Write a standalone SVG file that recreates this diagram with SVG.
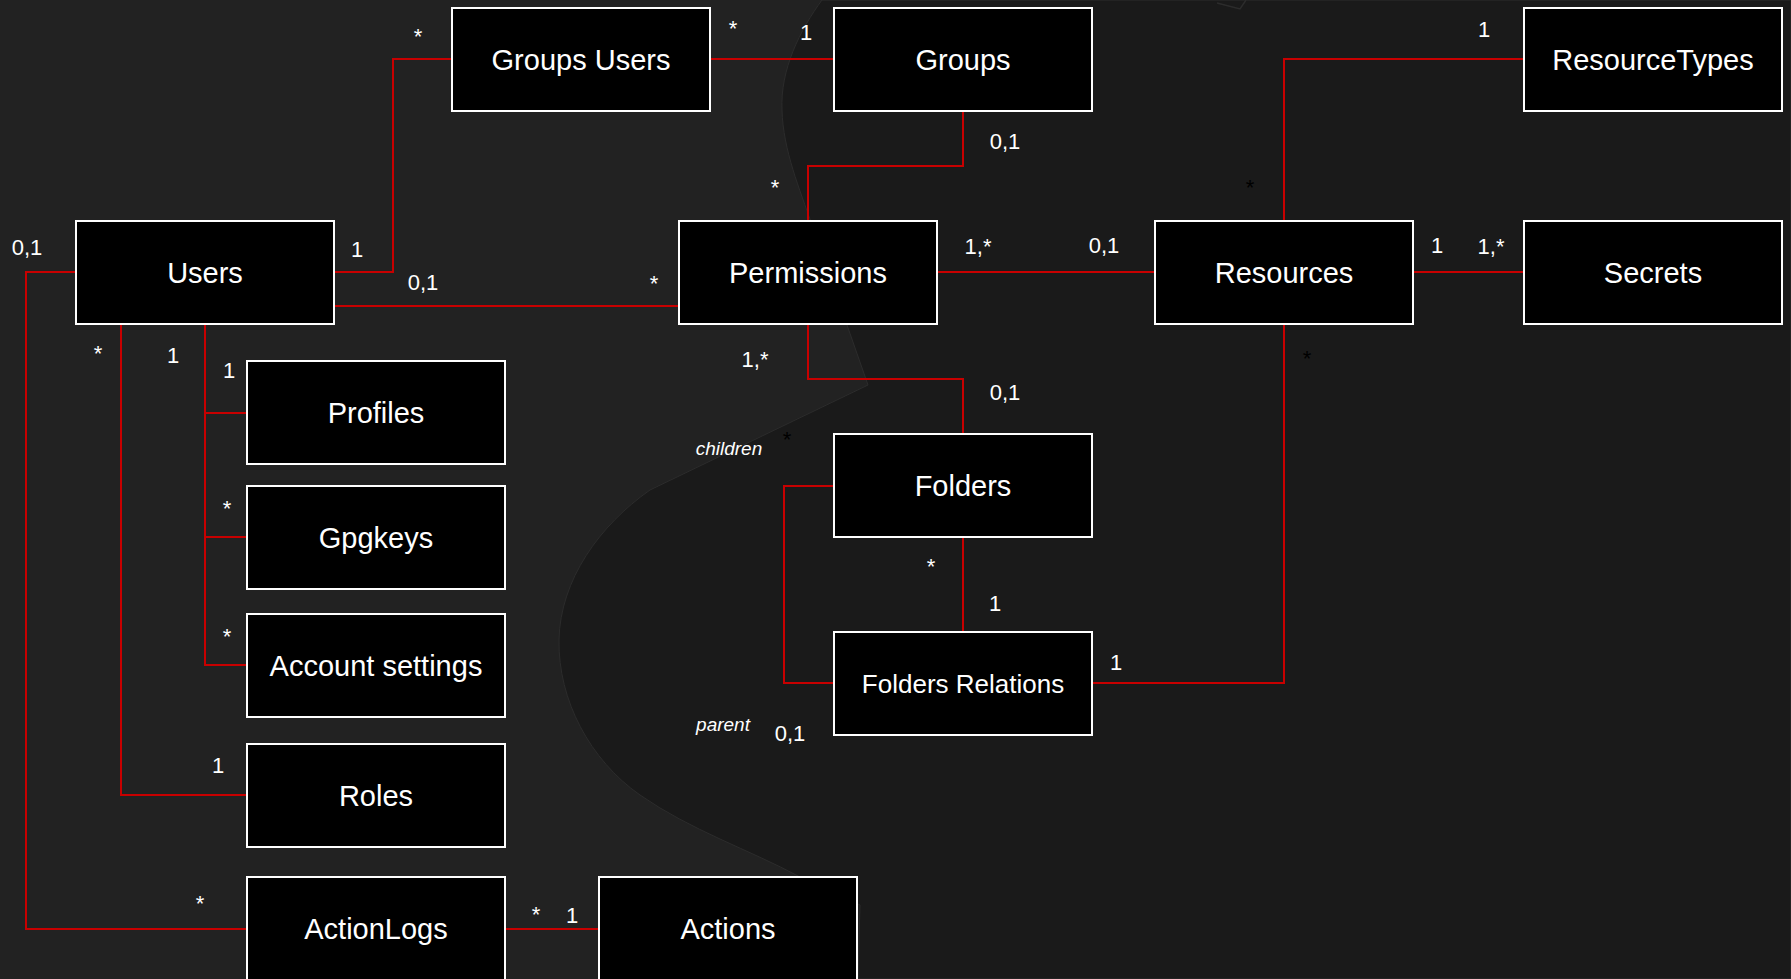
<svg xmlns="http://www.w3.org/2000/svg" width="1791" height="979" viewBox="0 0 1791 979">
<style>
.box{fill:#000;stroke:#fff;stroke-width:2}
.nt{fill:#fff;font-family:"Liberation Sans",Arial,sans-serif;font-size:29px;text-anchor:middle}
.con{fill:none;stroke:#c80000;stroke-width:2}
.lb{fill:#fff;font-family:"Liberation Sans",Arial,sans-serif;font-size:22px;text-anchor:middle}
.lbk{fill:#000;font-family:"Liberation Sans",Arial,sans-serif;font-size:22px;text-anchor:middle}
.role{fill:#fff;font-family:"Liberation Sans",Arial,sans-serif;font-size:19px;font-style:italic;text-anchor:middle}
</style>
<g id="background">
<rect x="0" y="0" width="1791" height="979" fill="#222"/>
<path d="M822 0 C800 30 780 70 782 110 C783 150 800 190 812 225 L847 325 L868 385 L650 490 C600 525 560 580 559 640 C558 700 590 760 640 795 C690 830 750 850 800 877 L860 905 L858 979 L1791 979 L1791 0 Z" fill="#1a1a1a" stroke="#2c2c2c" stroke-width="1"/>
<path d="M1217 3 L1240 9 L1246 0" fill="none" stroke="#2c2c2c" stroke-width="1.5"/>
</g>
<g id="connectors">
<path class="con" d="M334 272 H393 V59 H452"/>
<path class="con" d="M710 59 H834"/>
<path class="con" d="M334 306 H679"/>
<path class="con" d="M963 111 V166 H808 V221"/>
<path class="con" d="M937 272 H1155"/>
<path class="con" d="M1284 221 V59 H1524"/>
<path class="con" d="M1413 272 H1524"/>
<path class="con" d="M808 324 V379 H963 V434"/>
<path class="con" d="M834 486 H784 V683 H834"/>
<path class="con" d="M963 537 V632"/>
<path class="con" d="M1092 683 H1284 V324"/>
<path class="con" d="M76 272 H26 V929 H247"/>
<path class="con" d="M121 324 V795 H247"/>
<path class="con" d="M205 324 V665 H247 M205 413 H247 M205 537 H247"/>
<path class="con" d="M505 929 H599"/>
</g>
<g id="labels">
<text class="lb" x="418" y="44">*</text>
<text class="lb" x="357" y="257">1</text>
<text class="lb" x="423" y="290">0,1</text>
<text class="lb" x="654" y="291">*</text>
<text class="lb" x="733" y="36">*</text>
<text class="lb" x="806" y="40">1</text>
<text class="lb" x="1005" y="149">0,1</text>
<text class="lb" x="775" y="195">*</text>
<text class="lb" x="978" y="254">1,*</text>
<text class="lb" x="1104" y="253">0,1</text>
<text class="lb" x="1484" y="37">1</text>
<text class="lbk" x="1250" y="195">*</text>
<text class="lb" x="1437" y="253">1</text>
<text class="lb" x="1491" y="254">1,*</text>
<text class="lb" x="755" y="367">1,*</text>
<text class="lb" x="1005" y="400">0,1</text>
<text class="role" x="729" y="455">children</text>
<text class="lbk" x="787" y="447">*</text>
<text class="role" x="723" y="731">parent</text>
<text class="lb" x="790" y="741">0,1</text>
<text class="lb" x="931" y="574">*</text>
<text class="lb" x="995" y="611">1</text>
<text class="lb" x="1116" y="670">1</text>
<text class="lbk" x="1307" y="366">*</text>
<text class="lb" x="27" y="255">0,1</text>
<text class="lb" x="98" y="361">*</text>
<text class="lb" x="173" y="363">1</text>
<text class="lb" x="229" y="378">1</text>
<text class="lb" x="227" y="516">*</text>
<text class="lb" x="227" y="644">*</text>
<text class="lb" x="218" y="773">1</text>
<text class="lb" x="200" y="911">*</text>
<text class="lb" x="536" y="922">*</text>
<text class="lb" x="572" y="923">1</text>
</g>
<g id="node-groups-users"><rect class="box" x="452" y="8" width="258" height="103"/><text class="nt" x="581" y="70">Groups Users</text></g>
<g id="node-groups"><rect class="box" x="834" y="8" width="258" height="103"/><text class="nt" x="963" y="70">Groups</text></g>
<g id="node-resourcetypes"><rect class="box" x="1524" y="8" width="258" height="103"/><text class="nt" x="1653" y="70">ResourceTypes</text></g>
<g id="node-users"><rect class="box" x="76" y="221" width="258" height="103"/><text class="nt" x="205" y="283">Users</text></g>
<g id="node-permissions"><rect class="box" x="679" y="221" width="258" height="103"/><text class="nt" x="808" y="283">Permissions</text></g>
<g id="node-resources"><rect class="box" x="1155" y="221" width="258" height="103"/><text class="nt" x="1284" y="283">Resources</text></g>
<g id="node-secrets"><rect class="box" x="1524" y="221" width="258" height="103"/><text class="nt" x="1653" y="283">Secrets</text></g>
<g id="node-profiles"><rect class="box" x="247" y="361" width="258" height="103"/><text class="nt" x="376" y="423">Profiles</text></g>
<g id="node-gpgkeys"><rect class="box" x="247" y="486" width="258" height="103"/><text class="nt" x="376" y="548">Gpgkeys</text></g>
<g id="node-account-settings"><rect class="box" x="247" y="614" width="258" height="103"/><text class="nt" x="376" y="676">Account settings</text></g>
<g id="node-roles"><rect class="box" x="247" y="744" width="258" height="103"/><text class="nt" x="376" y="806">Roles</text></g>
<g id="node-actionlogs"><rect class="box" x="247" y="877" width="258" height="103"/><text class="nt" x="376" y="939">ActionLogs</text></g>
<g id="node-actions"><rect class="box" x="599" y="877" width="258" height="103"/><text class="nt" x="728" y="939">Actions</text></g>
<g id="node-folders"><rect class="box" x="834" y="434" width="258" height="103"/><text class="nt" x="963" y="496">Folders</text></g>
<g id="node-folders-relations"><rect class="box" x="834" y="632" width="258" height="103"/><text class="nt" x="963" y="693" style="font-size:26px">Folders Relations</text></g>
</svg>
